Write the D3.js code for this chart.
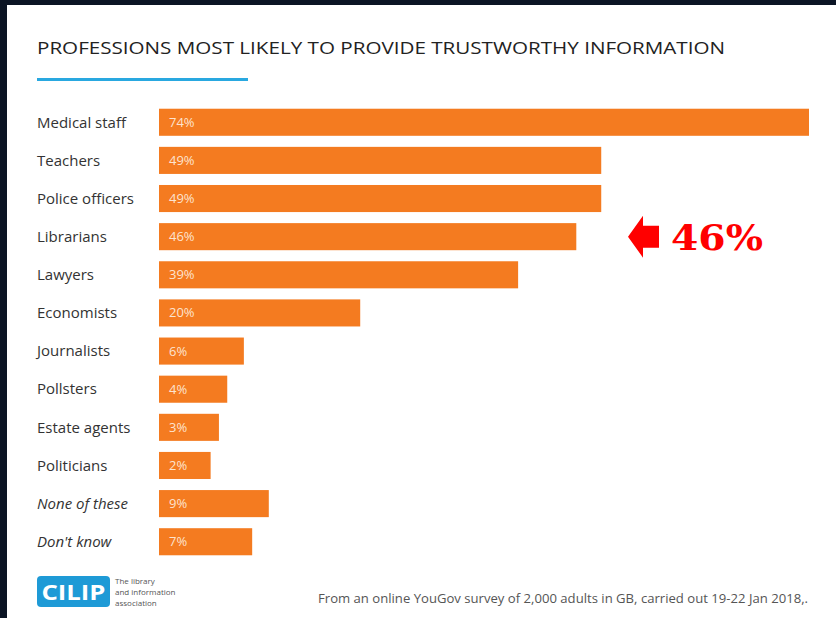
<!DOCTYPE html>
<html>
<head>
<meta charset="utf-8">
<script src="https://cdn.jsdelivr.net/npm/d3@7"></script>
<style>
  body { margin: 0; background: #0b1424; }
  svg { display: block; }
</style>
</head>
<body>
<div id="chart"></div>
<script>
// data
var professions = ["Medical staff", "Teachers", "Police officers", "Librarians", "Lawyers",
  "Economists", "Journalists", "Pollsters", "Estate agents", "Politicians",
  "None of these", "Don't know"];
var shares = [74, 49, 49, 46, 39, 20, 6, 4, 3, 2, 9, 7];
var italicRows = ["None of these", "Don't know"];
var highlight = "Librarians";
var highlightText = "46%";

var svgWidth = 836;
var svgHeight = 618;

var svg = d3.select("#chart")
  .append("svg")
  .attr("width", svgWidth)
  .attr("height", svgHeight);

// dark frame, white card
svg.append("rect")
  .attr("width", svgWidth)
  .attr("height", svgHeight)
  .attr("fill", "#0b1424");

svg.append("rect")
  .attr("x", 7)
  .attr("y", 5)
  .attr("width", svgWidth - 7)
  .attr("height", svgHeight - 5)
  .attr("fill", "#ffffff");

// title + underline
svg.append("text")
  .attr("x", 37)
  .attr("y", 54)
  .attr("font-family", "Open Sans")
  .attr("font-size", 16)
  .attr("fill", "#222")
  .attr("textLength", 688)
  .attr("lengthAdjust", "spacingAndGlyphs")
  .text("PROFESSIONS MOST LIKELY TO PROVIDE TRUSTWORTHY INFORMATION");

svg.append("rect")
  .attr("x", 37)
  .attr("y", 78)
  .attr("width", 211)
  .attr("height", 3)
  .attr("fill", "#29a8e0");

// scales
var barX = 159;

var y = d3.scaleBand()
  .domain(professions)
  .range([103, 561])
  .paddingInner(0.29)
  .paddingOuter(0.15);

// bars start with a short stub so the value label fits
var x = d3.scaleLinear()
  .domain([0, d3.max(shares)])
  .range([barX + 35, barX + 650]);

var rows = svg.append("g")
  .selectAll("g")
  .data(professions)
  .enter()
  .append("g")
  .attr("transform", d => `translate(0, ${y(d)})`);

// bars
rows.append("rect")
  .attr("x", barX)
  .attr("width", (d, i) => x(shares[i]) - barX)
  .attr("height", y.bandwidth())
  .attr("fill", "#f47b20");

// category labels
rows.append("text")
  .attr("x", 37)
  .attr("y", y.bandwidth() / 2)
  .attr("dy", "0.35em")
  .attr("font-family", "Open Sans")
  .attr("font-size", 15)
  .attr("font-style", d => italicRows.includes(d) ? "italic" : "normal")
  .attr("fill", "#333")
  .text(d => d);

// value labels inside bars
rows.append("text")
  .attr("x", barX + 10)
  .attr("y", y.bandwidth() / 2)
  .attr("dy", "0.35em")
  .attr("font-family", "Open Sans")
  .attr("font-size", 13)
  .attr("fill", "#fde3cf")
  .text((d, i) => shares[i] + "%");

// red arrow pointing at the librarians bar
var hy = y(highlight) + y.bandwidth() / 2;
var ax = 628;

svg.append("path")
  .attr("d", `M${ax},${hy} L${ax + 15},${hy - 21} L${ax + 15},${hy - 11} L${ax + 31},${hy - 11}
    L${ax + 31},${hy + 11} L${ax + 15},${hy + 11} L${ax + 15},${hy + 21} Z`)
  .attr("fill", "#ff0000");

svg.append("text")
  .attr("x", 671)
  .attr("y", hy + 13)
  .attr("font-family", "DejaVu Serif")
  .attr("font-weight", "bold")
  .attr("font-size", 36)
  .attr("fill", "#ff0000")
  .attr("textLength", 92)
  .attr("lengthAdjust", "spacingAndGlyphs")
  .text(highlightText);

// CILIP logo
svg.append("rect")
  .attr("x", 37)
  .attr("y", 576)
  .attr("width", 73)
  .attr("height", 31)
  .attr("rx", 4)
  .attr("fill", "#1e9ad6");

svg.append("text")
  .attr("x", 73.5)
  .attr("y", 600)
  .attr("text-anchor", "middle")
  .attr("font-family", "Open Sans")
  .attr("font-weight", "bold")
  .attr("font-size", 22)
  .attr("fill", "#ffffff")
  .attr("textLength", 64)
  .attr("lengthAdjust", "spacingAndGlyphs")
  .text("CILIP");

var logoLines = ["The library", "and information", "association"];
svg.append("g")
  .selectAll("text")
  .data(logoLines)
  .enter()
  .append("text")
  .attr("x", 115)
  .attr("y", (d, i) => 584 + i * 11)
  .attr("font-family", "Open Sans")
  .attr("font-size", 8)
  .attr("fill", "#555")
  .text(d => d);

// footnote
svg.append("text")
  .attr("x", 318)
  .attr("y", 603)
  .attr("font-family", "Open Sans")
  .attr("font-size", 12.5)
  .attr("fill", "#555")
  .attr("textLength", 490)
  .attr("lengthAdjust", "spacingAndGlyphs")
  .text("From an online YouGov survey of 2,000 adults in GB, carried out 19-22 Jan 2018,.");
</script>
</body>
</html>
